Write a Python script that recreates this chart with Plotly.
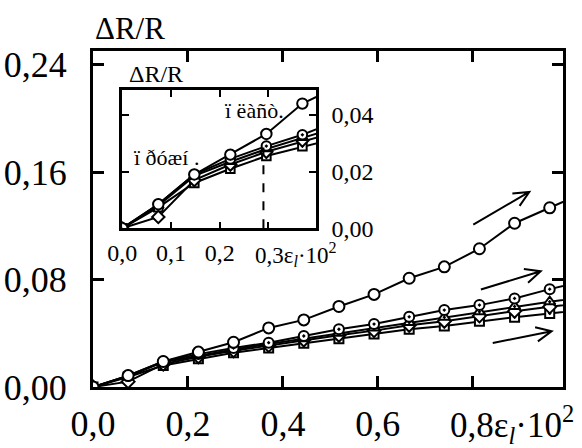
import math
import plotly.graph_objects as go

# ---------------- data ----------------
strain = [0.0, 0.074, 0.148, 0.222, 0.296, 0.370, 0.444, 0.518, 0.592,
          0.666, 0.740, 0.814, 0.888, 0.962, 1.036]
s_open = [0.0, 0.0085, 0.019, 0.026, 0.0333, 0.044, 0.050, 0.060, 0.069,
          0.081, 0.0895, 0.103, 0.122, 0.1335, 0.145]
s_cdot = [0.0, 0.0085, 0.019, 0.0245, 0.0290, 0.0330, 0.0380, 0.0430, 0.0469,
          0.0523, 0.0573, 0.0610, 0.0660, 0.0729, 0.0790]
s_tri = [0.0, 0.0080, 0.0185, 0.0235, 0.0280, 0.0320, 0.0360, 0.0400, 0.0440,
         0.0480, 0.0520, 0.0560, 0.0600, 0.0635, 0.0670]
s_dia = [0.0, 0.0040, 0.0170, 0.0225, 0.0270, 0.0310, 0.0350, 0.0385, 0.0420,
         0.0460, 0.0490, 0.0530, 0.0565, 0.0597, 0.0630]
s_sq = [0.0, 0.0074, 0.0160, 0.0210, 0.0255, 0.0290, 0.0325, 0.0360, 0.0395,
        0.0430, 0.0455, 0.0490, 0.0520, 0.0548, 0.0575]

main_xticks = [0.0, 0.2, 0.4, 0.6, 0.8]
main_xtext = ["0,0", "0,2", "0,4", "0,6", ""]
main_xlast = "0,8ε<sub><i>l</i></sub>·10<sup>2</sup>"
main_yticks = [0.0, 0.08, 0.16, 0.24]
main_ytext = ["0,00", "0,08", "0,16", "0,24"]
inset_xticks = [0.0, 0.1, 0.2, 0.3]
inset_xtext = ["0,0", "0,1", "0,2", ""]
inset_xlast = "0,3ε<sub><i>l</i></sub>·10<sup>2</sup>"
inset_yticks = [0.0, 0.02, 0.04]
inset_ytext = ["0,00", "0,02", "0,04"]

# arrows (tail, head) in main-axis data units
arrows = [((0.801, 0.121), (0.919, 0.1453)),
          ((0.817, 0.0726), (0.943, 0.0862)),
          ((0.842, 0.0328), (0.966, 0.0415))]

FONT = "Liberation Serif"
W, H = 582, 448
ML, MR, MT, MB = 93, 19, 51, 61
PW, PH = W - ML - MR, H - MT - MB
XR = [0, 0.99]
YR = [0, 0.2503]

fig = go.Figure()

series = [
    (s_sq, "square-dot", 9),
    (s_dia, "diamond", 10),
    (s_tri, "triangle-up-dot", 10),
    (s_cdot, "circle-dot", 10),
    (s_open, "circle", 11),
]

for xa, ya, sc in [("x", "y", 1.0), ("x2", "y2", 0.95)]:
    for ys, sym, sz in series:
        fig.add_trace(go.Scatter(
            x=strain, y=ys, mode="lines+markers", xaxis=xa, yaxis=ya,
            line=dict(color="black", width=2),
            marker=dict(symbol=sym, size=sz * sc, color="white",
                        line=dict(color="black", width=2)),
            showlegend=False, cliponaxis=True))

main_axis = dict(showgrid=False, zeroline=False, showline=True,
                 linecolor="black", linewidth=3, mirror="ticks",
                 ticks="inside", tickcolor="black", tickwidth=3, ticklen=11,
                 automargin=False, layer="above traces")
inset_axis = dict(showgrid=False, zeroline=False, showline=True,
                  linecolor="black", mirror="ticks", ticks="inside",
                  tickcolor="black", automargin=False, layer="above traces")

fig.update_layout(
    width=W, height=H,
    margin=dict(l=ML, r=MR, t=MT, b=MB, autoexpand=False),
    paper_bgcolor="white", plot_bgcolor="white",
    font=dict(family=FONT, color="black"),
    xaxis=dict(range=XR, domain=[0, 1], anchor="y", tickvals=main_xticks,
               ticktext=main_xtext, tickfont=dict(size=36, family=FONT),
               ticklabelstandoff=3, **main_axis),
    yaxis=dict(range=YR, domain=[0, 1], anchor="x", tickvals=main_yticks,
               ticktext=main_ytext, tickfont=dict(size=36, family=FONT),
               ticklabelstandoff=16, **main_axis),
    xaxis2=dict(range=[0, 0.398], domain=[0.0623, 0.4745], anchor="y2",
                tickvals=inset_xticks, ticktext=inset_xtext, linewidth=2.5,
                tickwidth=2, ticklen=7, tickfont=dict(size=24, family=FONT),
                ticklabelstandoff=1, **inset_axis),
    yaxis2=dict(range=[0, 0.0488], domain=[0.4723, 0.8839], anchor="x2",
                side="right", tickvals=inset_yticks, ticktext=inset_ytext,
                linewidth=2.5, tickwidth=2, ticklen=7,
                tickfont=dict(size=24, family=FONT), ticklabelstandoff=8,
                **inset_axis),
)

# dashed marker line in the inset
fig.add_shape(type="line", xref="x2", yref="y2", x0=0.29, x1=0.29, y0=0,
              y1=0.0285, line=dict(color="black", width=2, dash="dash"))

# arrows drawn as shaft + open chevron head
sx = PW / (XR[1] - XR[0])
sy = PH / (YR[1] - YR[0])
L, TH = 17.0, math.radians(25)
for (tx, ty), (hx, hy) in arrows:
    dx, dy = (hx - tx) * sx, (hy - ty) * sy
    ang = math.atan2(dy, dx) + math.pi
    pts = []
    for s in (+1, -1):
        a = ang + s * TH
        pts.append((hx + L * math.cos(a) / sx, hy + L * math.sin(a) / sy))
    path = (f"M{tx},{ty} L{hx},{hy} M{pts[0][0]},{pts[0][1]} L{hx},{hy} "
            f"L{pts[1][0]},{pts[1][1]}")
    fig.add_shape(type="path", xref="x", yref="y", path=path,
                  line=dict(color="black", width=2))


def px2paper(px, py):
    return (px - ML) / PW, (H - MB - py) / PH


def note(text, px, py, size, xanchor="center"):
    x, y = px2paper(px, py)
    fig.add_annotation(text=text, x=x, y=y, xref="paper", yref="paper",
                       xanchor=xanchor, yanchor="middle", showarrow=False,
                       font=dict(size=size, family=FONT, color="black"))


note("ΔR/R", 130, 28, 31)
note("ΔR/R", 156, 74, 24)
note("ï ëàñò.", 254, 110, 22)
note("ï ðóæí .", 166, 157, 22)
note(main_xlast, 448, 424, 35, "left")
note(inset_xlast, 253, 254, 23, "left")

fig.write_html("out.html")
